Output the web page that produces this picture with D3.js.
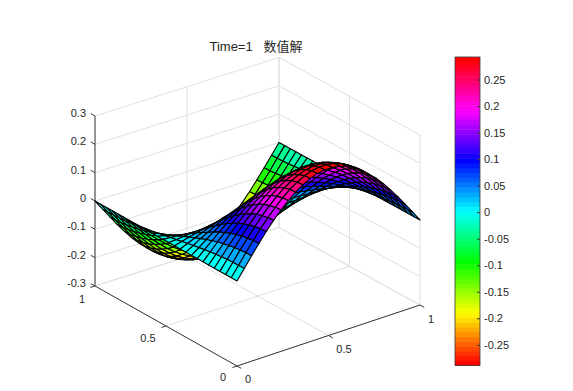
<!DOCTYPE html>
<html>
<head>
<meta charset="utf-8">
<title>Time=1 数值解</title>
<script src="https://cdn.jsdelivr.net/npm/d3@7"></script>
<style>
    html, body { margin: 0; padding: 0; background: #fff; }
    text { font-family: "Liberation Sans", "Noto Sans CJK SC", sans-serif; font-size: 11px; fill: #262626; }
    .title { font-size: 13px; white-space: pre; }
    .grid { stroke: #e0e0e0; stroke-width: 1; fill: none; }
    .axis { stroke: #3a3a3a; stroke-width: 1; fill: none; }
    .cell { stroke: #000; stroke-width: 1.1; stroke-linejoin: round; }
</style>
</head>
<body>
<div id="container"></div>
<script>
//surface at Time=1, rows are x, columns are y
var xGrid = [0, 0.04, 0.08, 0.12, 0.16, 0.2, 0.24, 0.28, 0.32, 0.36, 0.4, 0.44, 0.48, 0.52, 0.56, 0.6, 0.64, 0.68, 0.72, 0.76, 0.8, 0.84, 0.88, 0.92, 0.96, 1];
var yGrid = [0, 0.04, 0.08, 0.12, 0.16, 0.2, 0.24, 0.28, 0.32, 0.36, 0.4, 0.44, 0.48, 0.52, 0.56, 0.6, 0.64, 0.68, 0.72, 0.76, 0.8, 0.84, 0.88, 0.92, 0.96, 1];
var surfaceZ = [
    [0, 0, 0, 0, 0, 0, 0, 0, 0, 0, 0, 0, 0, 0, 0, 0, 0, 0, 0, 0, 0, 0, 0, 0, 0, 0],
    [.036, .036, .035, .034, .032, .029, .026, .023, .019, .015, .011, .007, .002, -.002, -.007, -.011, -.015, -.019, -.023, -.026, -.029, -.032, -.034, -.035, -.036, -.036],
    [.072, .072, .070, .067, .063, .058, .053, .046, .039, .031, .022, .014, .005, -.005, -.014, -.022, -.031, -.039, -.046, -.053, -.058, -.063, -.067, -.070, -.072, -.072],
    [.107, .106, .103, .099, .093, .086, .078, .068, .057, .045, .033, .020, .007, -.007, -.020, -.033, -.045, -.057, -.068, -.078, -.086, -.093, -.099, -.103, -.106, -.107],
    [.140, .139, .135, .130, .122, .113, .102, .089, .075, .059, .043, .026, .009, -.009, -.026, -.043, -.059, -.075, -.089, -.102, -.113, -.122, -.130, -.135, -.139, -.140],
    [.171, .169, .165, .159, .149, .138, .124, .109, .091, .073, .053, .032, .011, -.011, -.032, -.053, -.073, -.091, -.109, -.124, -.138, -.149, -.159, -.165, -.169, -.171],
    [.199, .197, .192, .185, .174, .161, .145, .127, .106, .085, .061, .037, .012, -.012, -.037, -.061, -.085, -.106, -.127, -.145, -.161, -.174, -.185, -.192, -.197, -.199],
    [.223, .222, .216, .208, .196, .181, .163, .142, .120, .095, .069, .042, .014, -.014, -.042, -.069, -.095, -.120, -.142, -.163, -.181, -.196, -.208, -.216, -.222, -.223],
    [.245, .243, .237, .228, .215, .198, .178, .156, .131, .104, .076, .046, .015, -.015, -.046, -.076, -.104, -.131, -.156, -.178, -.198, -.215, -.228, -.237, -.243, -.245],
    [.262, .260, .254, .244, .230, .212, .191, .167, .141, .112, .081, .049, .016, -.016, -.049, -.081, -.112, -.141, -.167, -.191, -.212, -.230, -.244, -.254, -.260, -.262],
    [.276, .274, .267, .256, .242, .223, .201, .176, .148, .117, .085, .052, .017, -.017, -.052, -.085, -.117, -.148, -.176, -.201, -.223, -.242, -.256, -.267, -.274, -.276],
    [.285, .283, .276, .265, .250, .230, .208, .182, .153, .121, .088, .053, .018, -.018, -.053, -.088, -.121, -.153, -.182, -.208, -.230, -.250, -.265, -.276, -.283, -.285],
    [.289, .287, .280, .269, .254, .234, .211, .184, .155, .123, .089, .054, .018, -.018, -.054, -.089, -.123, -.155, -.184, -.211, -.234, -.254, -.269, -.280, -.287, -.289],
    [.289, .287, .280, .269, .254, .234, .211, .184, .155, .123, .089, .054, .018, -.018, -.054, -.089, -.123, -.155, -.184, -.211, -.234, -.254, -.269, -.280, -.287, -.289],
    [.285, .283, .276, .265, .250, .230, .208, .182, .153, .121, .088, .053, .018, -.018, -.053, -.088, -.121, -.153, -.182, -.208, -.230, -.250, -.265, -.276, -.283, -.285],
    [.276, .274, .267, .256, .242, .223, .201, .176, .148, .117, .085, .052, .017, -.017, -.052, -.085, -.117, -.148, -.176, -.201, -.223, -.242, -.256, -.267, -.274, -.276],
    [.262, .260, .254, .244, .230, .212, .191, .167, .141, .112, .081, .049, .016, -.016, -.049, -.081, -.112, -.141, -.167, -.191, -.212, -.230, -.244, -.254, -.260, -.262],
    [.245, .243, .237, .228, .215, .198, .178, .156, .131, .104, .076, .046, .015, -.015, -.046, -.076, -.104, -.131, -.156, -.178, -.198, -.215, -.228, -.237, -.243, -.245],
    [.223, .222, .216, .208, .196, .181, .163, .142, .120, .095, .069, .042, .014, -.014, -.042, -.069, -.095, -.120, -.142, -.163, -.181, -.196, -.208, -.216, -.222, -.223],
    [.199, .197, .192, .185, .174, .161, .145, .127, .106, .085, .061, .037, .012, -.012, -.037, -.061, -.085, -.106, -.127, -.145, -.161, -.174, -.185, -.192, -.197, -.199],
    [.171, .169, .165, .159, .149, .138, .124, .109, .091, .073, .053, .032, .011, -.011, -.032, -.053, -.073, -.091, -.109, -.124, -.138, -.149, -.159, -.165, -.169, -.171],
    [.140, .139, .135, .130, .122, .113, .102, .089, .075, .059, .043, .026, .009, -.009, -.026, -.043, -.059, -.075, -.089, -.102, -.113, -.122, -.130, -.135, -.139, -.140],
    [.107, .106, .103, .099, .093, .086, .078, .068, .057, .045, .033, .020, .007, -.007, -.020, -.033, -.045, -.057, -.068, -.078, -.086, -.093, -.099, -.103, -.106, -.107],
    [.072, .072, .070, .067, .063, .058, .053, .046, .039, .031, .022, .014, .005, -.005, -.014, -.022, -.031, -.039, -.046, -.053, -.058, -.063, -.067, -.070, -.072, -.072],
    [.036, .036, .035, .034, .032, .029, .026, .023, .019, .015, .011, .007, .002, -.002, -.007, -.011, -.015, -.019, -.023, -.026, -.029, -.032, -.034, -.035, -.036, -.036],
    [0, 0, 0, 0, 0, 0, 0, 0, 0, 0, 0, 0, 0, 0, 0, 0, 0, 0, 0, 0, 0, 0, 0, 0, 0, 0]
];

//tick values and labels
var xyTicks = [0, 0.5, 1];
var xyTickLabels = ["0", "0.5", "1"];
var zTicks = [-0.3, -0.2, -0.1, 0, 0.1, 0.2, 0.3];
var zTickLabels = ["-0.3", "-0.2", "-0.1", "0", "0.1", "0.2", "0.3"];
var barTicks = [-0.25, -0.2, -0.15, -0.1, -0.05, 0, 0.05, 0.1, 0.15, 0.2, 0.25];
var barTickLabels = ["-0.25", "-0.2", "-0.15", "-0.1", "-0.05", "0", "0.05", "0.1", "0.15", "0.2", "0.25"];
var colorLimits = [-0.289, 0.2925];
var titleText = "Time=1   数值解";

window.onload = setChart;

function setChart() {
    var width = 573,
        height = 391;

    var svg = d3.select("#container")
        .append("svg")
        .attr("width", width)
        .attr("height", height)
        .style("display", "block");

    //the box is nearly oblique, each data axis moves the point along its own screen direction
    var xToLeft = d3.scaleLinear().domain([0, 1]).range([237, 420]),
        xToTop = d3.scaleLinear().domain([0, 1]).range([0, -61]),
        yToLeft = d3.scaleLinear().domain([0, 1]).range([0, -142]),
        yToTop = d3.scaleLinear().domain([0, 1]).range([0, -80]),
        zToTop = d3.scaleLinear().domain([-0.3, 0.3]).range([366, 196]),
        //back corner sits a bit lower than a true parallelogram
        crossToLeft = d3.scaleLinear().domain([0, 1]).range([0, 1]),
        crossToTop = d3.scaleLinear().domain([0, 1]).range([0, 2.5]);

    function project(x, y, z) {
        return [xToLeft(x) + yToLeft(y) + crossToLeft(x * y),
            zToTop(z) + xToTop(x) + yToTop(y) + crossToTop(x * y)];
    }

    //hsv colormap, 64 steps like the matlab one
    var hsvColors = d3.range(64).map(function(i) {
        return d3.hsl(i / 63 * 360, 1, 0.5).formatHex();
    });
    var colorScale = d3.scaleQuantize().domain(colorLimits).range(hsvColors);

    var line = d3.line();

    function addSegment(cls, a, b) {
        svg.append("path")
            .attr("class", cls)
            .attr("d", line([a, b]));
    }

    //grid on the two back walls
    zTicks.forEach(function(z) {
        svg.append("path")
            .attr("class", "grid")
            .attr("d", line([project(0, 1, z), project(1, 1, z), project(1, 0, z)]));
    });
    xyTicks.forEach(function(t) {
        addSegment("grid", project(t, 1, -0.3), project(t, 1, 0.3));
        addSegment("grid", project(1, t, -0.3), project(1, t, 0.3));
        //floor
        addSegment("grid", project(t, 0, -0.3), project(t, 1, -0.3));
        addSegment("grid", project(0, t, -0.3), project(1, t, -0.3));
    });

    //axes
    addSegment("axis", project(0, 0, -0.3), project(1, 0, -0.3));
    addSegment("axis", project(0, 0, -0.3), project(0, 1, -0.3));
    addSegment("axis", project(0, 1, -0.3), project(0, 1, 0.3));

    //short ticks, each one points along another data axis
    xyTicks.forEach(function(t, i) {
        addSegment("axis", project(t, 0, -0.3), project(t, -0.03, -0.3));
        addSegment("axis", project(0, t, -0.3), project(-0.025, t, -0.3));
    });
    zTicks.forEach(function(z) {
        addSegment("axis", project(0, 1, z), project(0, 1.03, z));
    });

    //tick labels
    var xLabelSpots = [[248, 383], [344, 353], [431, 323]],
        yLabelSpots = [[223, 381], [148, 342], [82, 303]];

    svg.selectAll(".xLabel")
        .data(xyTickLabels)
        .enter()
        .append("text")
        .attr("class", "xLabel")
        .attr("text-anchor", "middle")
        .attr("x", function(d, i) { return xLabelSpots[i][0]; })
        .attr("y", function(d, i) { return xLabelSpots[i][1]; })
        .text(function(d) { return d; });

    svg.selectAll(".yLabel")
        .data(xyTickLabels)
        .enter()
        .append("text")
        .attr("class", "yLabel")
        .attr("text-anchor", "middle")
        .attr("x", function(d, i) { return yLabelSpots[i][0]; })
        .attr("y", function(d, i) { return yLabelSpots[i][1]; })
        .text(function(d) { return d; });

    svg.selectAll(".zLabel")
        .data(zTickLabels)
        .enter()
        .append("text")
        .attr("class", "zLabel")
        .attr("text-anchor", "end")
        .attr("x", 86)
        .attr("y", function(d, i) { return project(0, 1, zTicks[i])[1] + 1; })
        .text(function(d) { return d; });

    //build the faces, colour comes from the first corner like surf does with flat shading
    var cells = [];
    for (var i = 0; i < xGrid.length - 1; i++) {
        for (var j = 0; j < yGrid.length - 1; j++) {
            var corners = [[i, j], [i + 1, j], [i + 1, j + 1], [i, j + 1]];
            var points = corners.map(function(c) {
                return project(xGrid[c[0]], yGrid[c[1]], surfaceZ[c[0]][c[1]]);
            });
            var midX = (xGrid[i] + xGrid[i + 1]) / 2,
                midY = (yGrid[j] + yGrid[j + 1]) / 2,
                midZ = d3.mean(corners, function(c) { return surfaceZ[c[0]][c[1]]; });
            cells.push({
                points: points,
                value: surfaceZ[i][j],
                //camera sits at -x -y +z, bigger means closer
                depth: -0.527 * midX - 0.687 * midY + 0.42 * (midZ + 0.3) / 0.6
            });
        }
    }
    cells.sort(function(a, b) { return d3.ascending(a.depth, b.depth); });

    svg.append("g")
        .selectAll(".cell")
        .data(cells)
        .enter()
        .append("path")
        .attr("class", "cell")
        .attr("d", function(d) { return line(d.points) + "Z"; })
        .style("fill", function(d) { return colorScale(d.value); });

    //title
    svg.append("text")
        .attr("class", "title")
        .attr("x", 256)
        .attr("y", 51)
        .attr("text-anchor", "middle")
        .text(titleText);

    //colorbar
    var barLeft = 455,
        barRight = 480;
    var barScale = d3.scaleLinear()
        .domain(colorLimits)
        .range([365.5, 57]);
    var stepHeight = (colorLimits[1] - colorLimits[0]) / hsvColors.length;

    svg.selectAll(".barStep")
        .data(hsvColors)
        .enter()
        .append("rect")
        .attr("class", "barStep")
        .attr("x", barLeft)
        .attr("width", barRight - barLeft)
        .attr("y", function(d, i) { return barScale(colorLimits[0] + (i + 1) * stepHeight); })
        .attr("height", barScale(0) - barScale(stepHeight) + 0.5)
        .style("fill", function(d) { return d; });

    svg.append("rect")
        .attr("x", barLeft)
        .attr("y", barScale(colorLimits[1]))
        .attr("width", barRight - barLeft)
        .attr("height", barScale(colorLimits[0]) - barScale(colorLimits[1]))
        .style("fill", "none")
        .style("stroke", "#3a3a3a")
        .style("stroke-width", 0.8);

    var barAxis = d3.axisRight(barScale)
        .tickValues(barTicks)
        .tickSizeInner(-3)
        .tickSizeOuter(0)
        .tickPadding(4)
        .tickFormat(function(d, i) { return barTickLabels[i]; });

    var barAxisGroup = svg.append("g")
        .attr("transform", "translate(" + barRight + ",0)")
        .call(barAxis);
    barAxisGroup.select(".domain").remove();
    barAxisGroup.selectAll("line").style("stroke", "#3a3a3a");
    barAxisGroup.attr("font-family", null).attr("font-size", null);
}
</script>
</body>
</html>
